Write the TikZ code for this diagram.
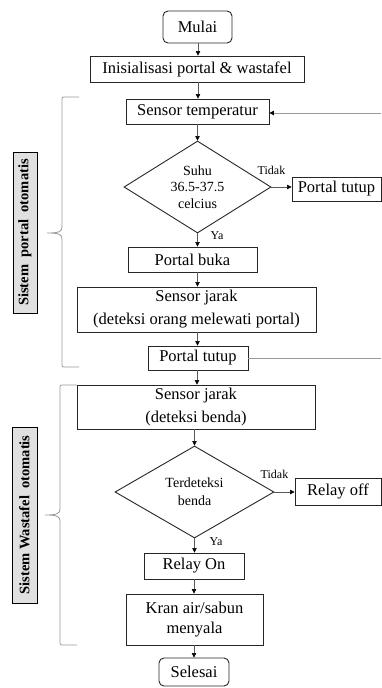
\documentclass[tikz,border=0pt]{standalone}
\usepackage{fontspec}
\setmainfont{Liberation Serif}
\usetikzlibrary{shapes.geometric,arrows.meta,shadows}
\tikzset{
  box/.style={draw=black!85, line width=0.9pt, fill=white, inner sep=0pt, align=center,
    font=\fontsize{16.5}{20}\selectfont},
  startbox/.style={box, rounded corners=5pt},
  decision/.style={diamond, draw=black!85, line width=0.9pt, fill=white, inner sep=0pt,
    align=center, aspect=1.6, font=\fontsize{14}{16.5}\selectfont},
  conn/.style={draw=black!65, line width=0.6pt},
  arr/.style={conn, -{Triangle[length=4.5pt,width=4.5pt,black]}},
  graybr/.style={draw=black!40, line width=0.8pt},
  small/.style={font=\fontsize{12}{14}\selectfont, inner sep=0pt},
  sidelabel/.style={draw=black, line width=1pt, fill=black!12, rotate=90, inner sep=0pt,
    font=\fontsize{14.5}{16}\selectfont\bfseries,
    drop shadow={opacity=0.35, shadow xshift=1pt, shadow yshift=-1pt}}
}
\begin{document}
\begin{tikzpicture}[x=1pt,y=-1pt]
\useasboundingbox (0,0) rectangle (381,688);

% main column
\node[startbox, minimum width=69pt, minimum height=32pt] (mulai) at (197.5,27) {Mulai};
\node[box, minimum width=214pt, minimum height=26pt] (init) at (197,69) {Inisialisasi portal \& wastafel};
\node[box, minimum width=143pt, minimum height=25pt] (st) at (197.5,111.5) {Sensor temperatur};
\node[decision, minimum width=147pt, minimum height=92pt] (d1) at (197.5,187) {Suhu\\36.5-37.5\\celcius};
\node[box, minimum width=89pt, minimum height=24pt] (pt1) at (336.5,189) {Portal tutup};
\node[box, minimum width=129pt, minimum height=25pt] (pb) at (192.5,259.5) {Portal buka};
\node[box, minimum width=239pt, minimum height=45pt, font=\fontsize{16.5}{23}\selectfont] (sj1) at (196.5,309.5) {Sensor jarak\\(deteksi orang melewati portal)};
\node[box, minimum width=100pt, minimum height=24pt] (pt2) at (198,358) {Portal tutup};
\node[box, minimum width=238pt, minimum height=44pt, font=\fontsize{16.5}{23}\selectfont] (sj2) at (196,407) {Sensor jarak\\(deteksi benda)};
\node[decision, minimum width=159pt, minimum height=92pt, font=\fontsize{14}{18}\selectfont] (d2) at (194.5,492) {Terdeteksi\\benda};
\node[box, minimum width=86pt, minimum height=27pt] (ro) at (338,491.5) {Relay off};
\node[box, minimum width=100pt, minimum height=26pt] (ron) at (194,566) {Relay On};
\node[box, minimum width=137pt, minimum height=51pt, font=\fontsize{16.5}{20}\selectfont] (kran) at (194.5,619.5) {Kran air/sabun\\menyala};
\node[startbox, minimum width=70pt, minimum height=28pt] (sel) at (194,672) {Selesai};

% labels
\node[small] (ya1) at (217,236) {Ya};
\node[small] (td1) at (271.5,170) {Tidak};
\node[small] (ya2) at (216,542) {Ya};
\node[small] (td2) at (274.5,474) {Tidak};

% connectors
\draw[arr] (mulai.south -| 198,0) -- (init.north -| 198,0);
\draw[arr] (init.south -| 198,0) -- (st.north -| 198,0);
\draw[arr] (st.south) -- (d1.north);
\draw[arr] (d1.south) -- (d1.south |- pb.north);
\draw[arr] (d1.east) -- (d1.east -| pt1.west);
\draw[arr] (pb.south -| 197.5,0) -- (sj1.north -| 197.5,0);
\draw[arr] (sj1.south -| 197.5,0) -- (pt2.north -| 197.5,0);
\draw[arr] (pt2.south -| 197,0) -- (sj2.north -| 197,0);
\draw[arr] (sj2.south -| d2.north) -- (d2.north);
\draw[arr] (d2.south) -- (d2.south |- ron.north);
\draw[arr] (d2.east) -- (d2.east -| ro.west);
\draw[arr] (ron.south) -- (kran.north -| ron.south);
\draw[arr] (kran.south -| sel.north) -- (sel.north);

% feedback lines to right edge
\coordinate (fb1) at (381,113);
\coordinate (fb2) at (381,358);
\draw[graybr, -{Triangle[length=4.5pt,width=4.5pt,black]}] (fb1) -- (fb1 -| st.east);
\draw[graybr] (pt2.east) -- (pt2.east -| fb2);

% braces
\draw[graybr] (79,97) -- (66,97) .. controls (62,97) .. (62,101) -- (62,227)
  .. controls (62,232) and (58,233) .. (47,233)
  .. controls (58,233) and (62,234) .. (62,239) -- (62,363)
  .. controls (62,367) .. (66,367) -- (79,367);
\draw[graybr] (77,385) -- (64,385) .. controls (60,385) .. (60,389) -- (60,509)
  .. controls (60,514) and (56,515) .. (45,515)
  .. controls (56,515) and (60,516) .. (60,521) -- (60,641)
  .. controls (60,645) .. (64,645) -- (77,645);

% side labels
\node[sidelabel, minimum width=161pt, minimum height=24pt] (lab1) at (25,232.5) {Sistem\ \ portal\ \ otomatis};
\node[sidelabel, minimum width=176pt, minimum height=25pt] (lab2) at (24.5,515) {Sistem Wastafel\ \ otomatis};
\end{tikzpicture}
\end{document}
